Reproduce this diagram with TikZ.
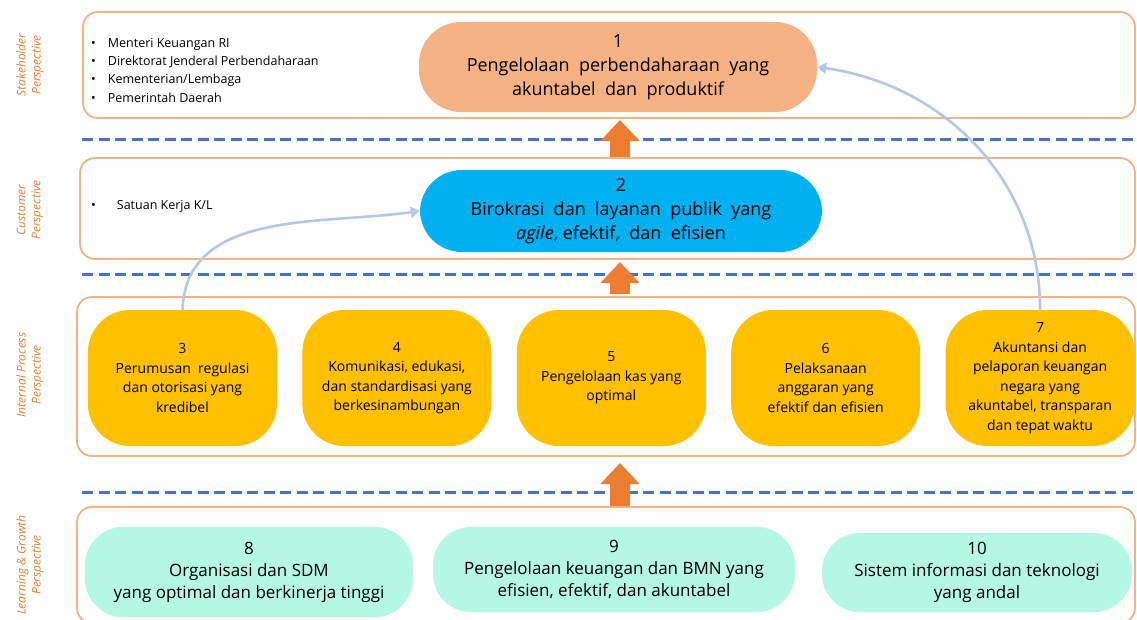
\documentclass[tikz,border=0pt]{standalone}
\usepackage{fontspec}
\setmainfont{Open Sans}
\usepackage{tikz}
\newcommand{\procwidth}{189pt}
\newcommand{\procheight}{136pt}
\usetikzlibrary{arrows.meta,positioning}
\definecolor{bandline}{RGB}{244,177,131}
\definecolor{goalorange}{RGB}{244,177,131}
\definecolor{goalblue}{RGB}{0,176,240}
\definecolor{goalyellow}{RGB}{255,192,0}
\definecolor{goalmint}{RGB}{180,247,228}
\definecolor{dashblue}{RGB}{68,114,196}
\definecolor{pushorange}{RGB}{237,125,49}
\definecolor{linkblue}{RGB}{180,199,231}
\tikzset{
  x=1pt,y=1pt,
  node distance=25pt,
  band/.style={draw=bandline,line width=1.8pt,shape=rectangle,rounded corners=15pt,inner sep=0},
  goal/.style={shape=rectangle,align=center,inner sep=0,font=\fontsize{18}{24}\selectfont},
  topgoal/.style={goal,rounded corners=42pt},
  proc/.style={goal,fill=goalyellow,rounded corners=42pt,minimum width=\procwidth,minimum height=\procheight,font=\fontsize{14}{19.5}\selectfont},
  base/.style={goal,fill=goalmint,rounded corners=38pt,font=\fontsize{17}{22}\selectfont},
  tag/.style={rotate=90,align=center,text=pushorange,font=\itshape\fontsize{12}{15}\selectfont},
  who/.style={anchor=north west,align=left,inner sep=0,font=\fontsize{12.5}{18.3}\selectfont},
  divider/.style={draw=dashblue,line width=3pt,dash pattern=on 11pt off 5.5pt},
  push/.style={draw=pushorange,line width=20pt,-{Triangle[length=21pt,width=38pt]}},
  link/.style={draw=linkblue,line width=2.6pt,-{Triangle[length=9pt,width=11pt]}}
}
\begin{document}
\begin{tikzpicture}
    \path [use as bounding box,fill=white] (0,0) rectangle (1137,-619);

    \node (stakeband) [band,minimum width=1052pt,minimum height=106pt] at (609,-65) {};
    \node (custband) [band,minimum width=1055pt,minimum height=101pt] at (607.5,-208.5) {};
    \node (procband) [band,minimum width=1058pt,minimum height=159pt] at (606,-376.5) {};
    \node (learnband) [band,minimum width=1058pt,minimum height=116pt] at (606,-565) {};

    \path [divider] (82,-139) -- (1137,-139);
    \path [divider] (82,-274) -- (1137,-274);
    \path [divider] (82,-492) -- (1137,-492);

    \node (stakelabel) [tag] at (30,-65) {Stakeholder\\Perspective};
    \node (custlabel) [tag] at (30,-210) {Customer\\Perspective};
    \node (proclabel) [tag] at (30,-375) {Internal Process\\Perspective};
    \node (learnlabel) [tag] at (30,-565) {Learning \& Growth\\Perspective};

    \node (stakeholders) [who] at (91,-38) {\textbullet\hspace{12pt}Menteri Keuangan RI\\\textbullet\hspace{12pt}Direktorat Jenderal Perbendaharaan\\\textbullet\hspace{12pt}Kementerian/Lembaga\\\textbullet\hspace{12pt}Pemerintah Daerah};
    \node (customers) [who] at (91,-200) {\textbullet\hspace{21pt}Satuan Kerja K/L};

    \node (goal1) [topgoal,fill=goalorange,minimum width=398pt,minimum height=90pt] at (618,-67) {1\\Pengelolaan\ \ perbendaharaan\ \ yang\\akuntabel\ \ dan\ \ produktif};
    \node (goal2) [topgoal,fill=goalblue,minimum width=402pt,minimum height=82pt] at (621,-211) {2\\Birokrasi\ \ dan\ \ layanan\ \ publik\ \ yang\\\textit{agile}, efektif,\ \ dan\ \ efisien};

    \node (goal3) [proc] at (182.5,-378) {3\\Perumusan\ \ regulasi\\dan otorisasi yang\\kredibel};
    \node (goal4) [proc,right=of goal3] {4\\Komunikasi, edukasi,\\dan standardisasi yang\\berkesinambungan};
    \node (goal5) [proc,right=of goal4] {5\\Pengelolaan kas yang\\optimal};
    \node (goal6) [proc,right=of goal5] {6\\Pelaksanaan\\anggaran yang\\efektif dan efisien};
    \node (goal7) [proc,right=of goal6] {7\\Akuntansi dan\\pelaporan keuangan\\negara yang\\akuntabel, transparan\\dan tepat waktu};

    \node (goal8) [base,minimum width=328pt,minimum height=90pt] at (249,-572) {8\\Organisasi dan SDM\\yang optimal dan berkinerja tinggi};
    \node (goal9) [base,minimum width=362pt,minimum height=85pt] at (614,-569.5) {9\\Pengelolaan keuangan dan BMN yang\\efisien, efektif, dan akuntabel};
    \node (goal10) [base,minimum width=310pt,minimum height=79pt] at (977,-572.5) {10\\Sistem informasi dan teknologi\\yang andal};

    \path [push] (620,-157) -- (620,-120);
    \path [push] (620,-294) -- (620,-262);
    \path [push] (620,-506) -- (620,-463);

    \path [link] (goal3.north) to[out=88,in=188] (goal2.west);
    \path [link] (goal7.north) to[out=90,in=-8] (goal1.east);
\end{tikzpicture}
\end{document}
